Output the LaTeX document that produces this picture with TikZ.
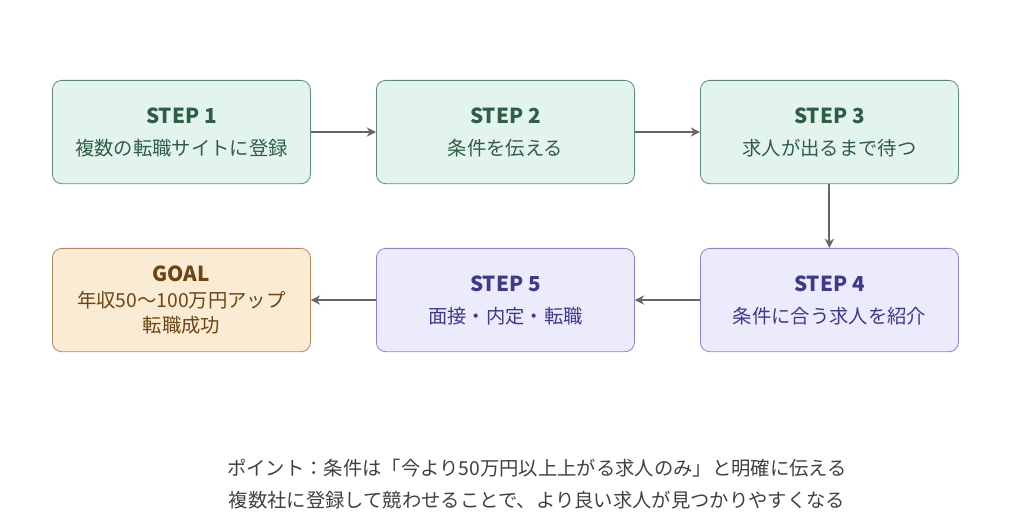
\documentclass[tikz,border=0pt]{standalone}
\usepackage{fontspec}
\setmainfont{Noto Sans CJK JP}
\usetikzlibrary{arrows.meta}
\definecolor{gf}{HTML}{E3F4EE}\definecolor{gd}{HTML}{5E8B70}\definecolor{gt}{HTML}{2E5E45}
\definecolor{pf}{HTML}{ECEBFB}\definecolor{pd}{HTML}{8A84C8}\definecolor{pt}{HTML}{3D3A8C}
\definecolor{of}{HTML}{FAEBD5}\definecolor{od}{HTML}{B48A5A}\definecolor{ot}{HTML}{6B4513}
\definecolor{ar}{HTML}{666666}
\begin{document}
\begin{tikzpicture}[x=0.75pt,y=-0.75pt,
 box/.style={rounded corners=7pt,line width=0.6pt,minimum width=193.5pt,minimum height=77.5pt,align=center,anchor=north west,font=\fontsize{14.5}{24}\selectfont},
 g/.style={box,fill=gf,draw=gd,text=gt},
 p/.style={box,fill=pf,draw=pd,text=pt},
 o/.style={box,fill=of,draw=od,text=ot},
 arr/.style={draw=ar,line width=1.5pt,-{Stealth[length=7pt,width=7pt]}}]
\useasboundingbox (0,0) rectangle (1024,527);
\newcommand\ttl[1]{{\fontsize{15.5}{24}\selectfont\bfseries #1}}
\node[g] (s1) at (52,80) {\ttl{STEP 1}\\複数の転職サイトに登録};
\node[g] (s2) at (376,80) {\ttl{STEP 2}\\条件を伝える};
\node[g] (s3) at (700,80) {\ttl{STEP 3}\\求人が出るまで待つ};
\node[p] (s4) at (700,248) {\ttl{STEP 4}\\条件に合う求人を紹介};
\node[p] (s5) at (376,248) {\ttl{STEP 5}\\面接・内定・転職};
\node[o,font=\fontsize{14.5}{19}\selectfont] (g0) at (52,248) {\ttl{GOAL}\\年収50〜100万円アップ\\転職成功};
\draw[arr] (s1) -- (s2);
\draw[arr] (s2) -- (s3);
\draw[arr] (s3) -- (s4);
\draw[arr] (s4) -- (s5);
\draw[arr] (s5) -- (g0);
\node[text=black!75,align=center,font=\fontsize{14.5}{24}\selectfont] (n) at (537,484) {ポイント：条件は「今より50万円以上上がる求人のみ」と明確に伝える\\複数社に登録して競わせることで、より良い求人が見つかりやすくなる};
\end{tikzpicture}
\end{document}
